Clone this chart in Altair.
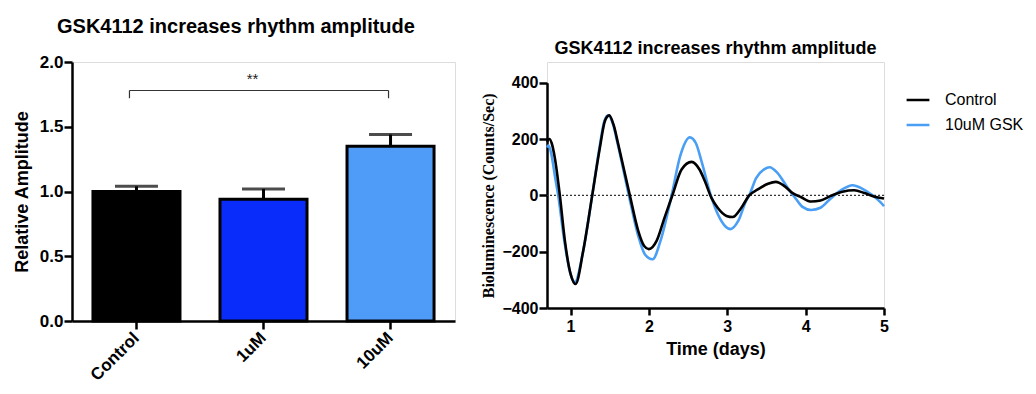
import altair as alt
import pandas as pd

# ---------------- Left panel data ----------------
groups = ["Control", "1uM", "10uM"]
amp_mean = [1.00, 0.94, 1.35]
amp_upper = [1.04, 1.02, 1.44]
bar_colors = ["#000000", "#0a2cfb", "#4f9cf8"]

sig_from = "Control"
sig_to = "10uM"
sig_mid = "1uM"
sig_y = 1.78
sig_leg_y = 1.72
sig_label_y = 1.87
sig_label = "**"

# ---------------- Right panel data ----------------
ctrl_day = [0.70, 0.73, 0.76, 0.80, 0.864, 0.928, 1.00, 1.065, 1.16, 1.277, 1.374, 1.44, 1.494,
            1.55, 1.61, 1.757, 1.864, 1.94, 2.00, 2.10, 2.20, 2.30, 2.417, 2.545, 2.65, 2.715,
            2.80, 2.88, 2.99, 3.07, 3.18, 3.28, 3.39, 3.52, 3.62, 3.73, 3.83, 3.94, 4.07, 4.19,
            4.32, 4.47, 4.62, 4.75, 4.87, 5.00]
ctrl_val = [190, 200, 185, 133, 0, -161, -278, -315, -200, 0, 168, 265, 284,
            250, 180, 0, -126, -180, -191, -161, -79, 0, 92, 119, 90, 50,
            -10, -45, -73, -77, -44, 0, 21, 41, 48, 33, 9, -6, -22, -18,
            -2, 13, 18, 8, -4, -11]

gsk_day = [0.70, 0.72, 0.76, 0.80, 0.843, 0.92, 1.00, 1.055, 1.16, 1.277, 1.37, 1.43, 1.481,
           1.54, 1.60, 1.745, 1.86, 1.95, 2.047, 2.15, 2.29, 2.40, 2.523, 2.60, 2.672, 2.79,
           2.88, 2.97, 3.04, 3.14, 3.24, 3.28, 3.37, 3.47, 3.54, 3.64, 3.77, 3.88, 3.96, 4.07,
           4.19, 4.32, 4.45, 4.60, 4.72, 4.85, 4.96, 5.00]
gsk_val = [170, 178, 140, 70, 0, -160, -280, -308, -200, 0, 170, 262, 284,
           255, 185, 0, -140, -210, -227, -160, 0, 140, 206, 185, 121, 0,
           -67, -108, -120, -91, -20, 0, 62, 92, 100, 80, 27, -14, -41, -52,
           -44, -11, 18, 36, 24, 1, -26, -38]

series_names = ["Control", "10uM GSK"]
series_colors = ["#000000", "#4a9ff5"]

title_text = "GSK4112 increases rhythm amplitude"
FONT = "Liberation Sans"

# ---------------- Left panel ----------------
bar_df = pd.DataFrame({"group": groups, "mean": amp_mean, "upper": amp_upper, "color": bar_colors})

xscale = alt.Scale(domain=groups, paddingInner=0.315, paddingOuter=0.165)
yscale = alt.Scale(domain=[0, 2], nice=False)

x_axis = alt.Axis(title=None, labelAngle=-45, labelFont=FONT, labelFontSize=17, labelFontWeight="bold",
                  labelColor="black", labelPadding=6, domainColor="black", domainWidth=2.5,
                  tickColor="black", tickWidth=2.5, tickSize=8)
y_axis = alt.Axis(values=[0, 0.5, 1.0, 1.5, 2.0], format=".1f", title="Relative Amplitude",
                  titleFont=FONT, titleFontSize=18, titleFontWeight="bold", titleColor="black",
                  titlePadding=8, labelFont=FONT, labelFontSize=17, labelFontWeight="bold",
                  labelColor="black", labelPadding=1, domainColor="black", domainWidth=2.5,
                  tickColor="black", tickWidth=2.5, tickSize=8, grid=False)

bars = alt.Chart(bar_df).mark_bar(stroke="black", strokeWidth=3).encode(
    x=alt.X("group:N", scale=xscale, axis=x_axis),
    y=alt.Y("mean:Q", scale=yscale, axis=y_axis),
    fill=alt.Fill("color:N", scale=None),
)
err = alt.Chart(bar_df).mark_rule(color="black", strokeWidth=3).encode(
    x=alt.X("group:N", scale=xscale), y=alt.Y("mean:Q", scale=yscale), y2="upper:Q"
)
caps = alt.Chart(bar_df).mark_tick(color="black", thickness=3, size=43).encode(
    x=alt.X("group:N", scale=xscale), y=alt.Y("upper:Q", scale=yscale)
)

br_df = pd.DataFrame({"group": [sig_from], "group2": [sig_to], "y": [sig_y]})
bracket = alt.Chart(br_df).mark_rule(color="#333333", strokeWidth=1.2, xOffset=-7, x2Offset=-2).encode(
    x=alt.X("group:N", scale=xscale), x2="group2:N", y=alt.Y("y:Q", scale=yscale)
)
leg_l_df = pd.DataFrame({"group": [sig_from], "y": [sig_leg_y], "y2": [sig_y]})
leg_l = alt.Chart(leg_l_df).mark_rule(color="#333333", strokeWidth=1.2, xOffset=-7).encode(
    x=alt.X("group:N", scale=xscale), y=alt.Y("y:Q", scale=yscale), y2="y2:Q"
)
leg_r_df = pd.DataFrame({"group": [sig_to], "y": [sig_leg_y], "y2": [sig_y]})
leg_r = alt.Chart(leg_r_df).mark_rule(color="#333333", strokeWidth=1.2, xOffset=-2).encode(
    x=alt.X("group:N", scale=xscale), y=alt.Y("y:Q", scale=yscale), y2="y2:Q"
)
star_df = pd.DataFrame({"group": [sig_mid], "y": [sig_label_y], "t": [sig_label]})
stars = alt.Chart(star_df).mark_text(font=FONT, fontSize=15, color="#222222", dx=-11).encode(
    x=alt.X("group:N", scale=xscale), y=alt.Y("y:Q", scale=yscale), text="t:N"
)

left = alt.layer(err, bars, caps, bracket, leg_l, leg_r, stars).properties(
    width=383, height=259,
    title=alt.TitleParams(title_text, font=FONT, fontSize=20, fontWeight="bold", color="black",
                          anchor="start", frame="group", dx=-15, baseline="alphabetic", offset=0),
)

# ---------------- Right panel ----------------
ctrl_df = pd.DataFrame({"day": ctrl_day, "value": ctrl_val, "series": series_names[0]})
gsk_df = pd.DataFrame({"day": gsk_day, "value": gsk_val, "series": series_names[1]})

rx = alt.Scale(domain=[0.7, 5], nice=False, zero=False)
ry = alt.Scale(domain=[-400, 400], range=[246, 20.7], nice=False, zero=False)

rx_axis = alt.Axis(values=[1, 2, 3, 4, 5], format="d", title="Time (days)", titleFont=FONT,
                   titleFontSize=18, titleFontWeight="bold", titleColor="black", titlePadding=6,
                   labelFont=FONT, labelFontSize=16, labelFontWeight="bold", labelColor="black",
                   labelPadding=3, domainColor="black", domainWidth=2.5, tickColor="black",
                   tickWidth=2.5, tickSize=7, grid=False, labelFlush=False)
ry_axis = alt.Axis(values=[-400, -200, 0, 200, 400], title="Bioluminescence (Counts/Sec)",
                   titleFont="Liberation Serif", titleFontSize=16, titleFontWeight="bold",
                   titleColor="black", titlePadding=5, labelFont=FONT, labelFontSize=16,
                   labelFontWeight="bold", labelColor="black", labelPadding=1,
                   domainColor="black", domainWidth=2.5, tickColor="black", tickWidth=2.5,
                   tickSize=8, grid=False)

color = alt.Color("series:N", scale=alt.Scale(domain=series_names, range=series_colors),
                  legend=alt.Legend(title=None, orient="none", legendX=833, legendY=25,
                                    symbolType="stroke", symbolStrokeWidth=2.5, symbolSize=520,
                                    labelFont=FONT, labelFontSize=16, labelColor="black",
                                    labelOffset=14, rowPadding=4))

zero_df = pd.DataFrame({"v": [0]})
zero_line = alt.Chart(zero_df).mark_rule(color="#333333", strokeWidth=1.2, strokeDash=[2, 2]).encode(
    y=alt.Y("v:Q", scale=ry)
)
gsk_line = alt.Chart(gsk_df).mark_line(strokeWidth=2.6, interpolate="monotone").encode(
    x=alt.X("day:Q", scale=rx, axis=rx_axis), y=alt.Y("value:Q", scale=ry, axis=ry_axis), color=color
)
ctrl_line = alt.Chart(ctrl_df).mark_line(strokeWidth=2.6, interpolate="monotone").encode(
    x=alt.X("day:Q", scale=rx), y=alt.Y("value:Q", scale=ry), color=color
)

right = alt.layer(zero_line, gsk_line, ctrl_line).properties(
    width=337, height=246,
    title=alt.TitleParams(title_text, font=FONT, fontSize=18, fontWeight="bold", color="black",
                          anchor="middle", frame="group", baseline="alphabetic", offset=-10),
)

chart = alt.hconcat(left, right, spacing=24).properties(
    padding={"left": 4, "top": 8, "right": 0, "bottom": 0}
).configure_view(stroke=None).configure(font=FONT)

chart.save("out.html", embed_options={"renderer": "svg", "actions": False})
